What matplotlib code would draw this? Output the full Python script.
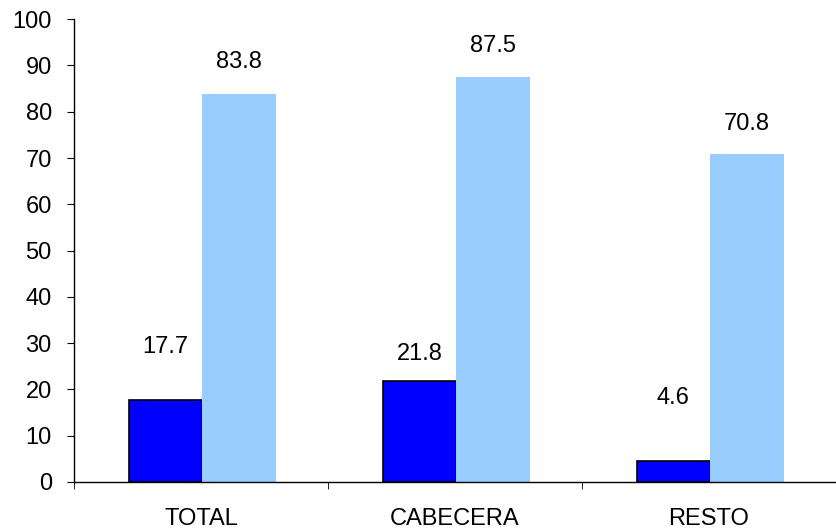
import numpy as np
import matplotlib
matplotlib.use('Agg')
from matplotlib import pyplot as plt
from matplotlib.ticker import FixedLocator

# Data
categories = ['TOTAL', 'CABECERA', 'RESTO']
serie_oscura = [17.7, 21.8, 4.6]
serie_clara = [83.8, 87.5, 70.8]

# Label offsets above bar tops (chart units)
off_oscura = [11.5, 5.8, 13.5]
off_clara = [6.9, 6.7, 6.5]

plt.rcParams['font.family'] = ['Liberation Sans', 'DejaVu Sans']

fig = plt.figure(figsize=(8.36, 5.32), dpi=100)
ax = fig.add_axes([0.0885, 0.094, 0.9115, 0.870])

x = np.arange(len(categories))
w = 0.29
shift = 0.005
ax.bar(x - w / 2 + shift, serie_oscura, w, color='#0000FF', edgecolor='black', linewidth=1.2)
ax.bar(x + w / 2 + shift, serie_clara, w, color='#99CCFF', edgecolor='none')

for i in range(len(categories)):
    ax.text(x[i] - w / 2 + shift, serie_oscura[i] + off_oscura[i], f'{serie_oscura[i]:.1f}',
            ha='center', va='center', fontsize=17)
    ax.text(x[i] + w / 2 + shift, serie_clara[i] + off_clara[i], f'{serie_clara[i]:.1f}',
            ha='center', va='center', fontsize=17)

ax.set_xlim(-0.5, 2.5)
ax.set_ylim(0, 100)
ax.set_yticks(np.arange(0, 101, 10))
ax.set_xticks(x)
ax.set_xticklabels(categories)
ax.xaxis.set_minor_locator(FixedLocator([-0.5, 0.5, 1.5]))
ax.tick_params(axis='x', which='major', length=0, pad=19, labelsize=17)
ax.tick_params(axis='x', which='minor', length=5, direction='out')
ax.tick_params(axis='y', length=5, direction='out', pad=11, labelsize=17)

for s in ['top', 'right']:
    ax.spines[s].set_visible(False)
ax.spines['left'].set_linewidth(1)
ax.spines['bottom'].set_linewidth(1)

fig.savefig('out.png', dpi=100)
